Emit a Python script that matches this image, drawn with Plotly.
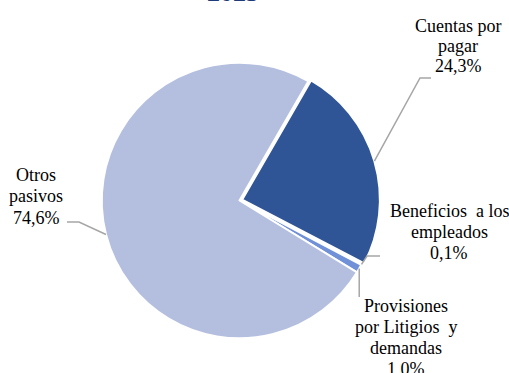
import math
import plotly.graph_objects as go

# ---- data ----
categories = ["Cuentas por pagar", "Beneficios a los empleados",
              "Provisiones por Litigios y demandas", "Otros pasivos"]
values = [24.3, 0.1, 1.0, 74.6]
label_lines = [["Cuentas por", "pagar"],
               ["Beneficios  a los", "empleados"],
               ["Provisiones", "por Litigios  y", "demandas"],
               ["Otros", "pasivos"]]
title_text = "2025"

# ---- styles / layout ----
colors = ["#2F5597", "#6A8AD6", "#7090D8", "#B4BFE0"]
pulls = [0.02, 0, 0, 0]
rotation = 30
W, H = 509, 373
ML, MR, MT, MB = 99, 129, 60, 32
PW, PH = W - ML - MR, H - MT - MB
FONT = "Liberation Serif"
FS = 18

def xp(px):
    return (px - ML) / PW

def yp(py):
    return 1 - (py - MT) / PH

cx, cy = ML + PW / 2, MT + PH / 2
r = min(PW, PH) / (2 + 2 * max(pulls))

total = sum(values)
edge_pts = []
cum = 0
for v, p in zip(values, pulls):
    ang = math.radians(rotation + 360 * (cum + v / 2) / total)
    rr = r * (1 + p)
    edge_pts.append((cx + rr * math.sin(ang), cy - rr * math.cos(ang)))
    cum += v

fig = go.Figure(go.Pie(
    labels=categories, values=values, sort=False, direction="clockwise",
    rotation=rotation, pull=pulls, textinfo="none", hoverinfo="skip",
    marker=dict(colors=colors, line=dict(color="white", width=2)),
    showlegend=False,
))

# label positions (first baseline, center x) and line spacing
label_pos = [(458, 32, 20), (449, 216.5, 21), (406, 311.5, 21.3), (36, 180.5, 21.5)]
# leader line start / elbow points
leader = [[(431, 78), (420, 78)], [(380, 256), (367, 256)],
          [(None, 297)], [(67, 222), (79, 222)]]

annotations = []
for i, (lines, v) in enumerate(zip(label_lines, values)):
    all_lines = lines + [f"{v:.1f}%".replace(".", ",")]
    x0, b0, sp = label_pos[i]
    for j, t in enumerate(all_lines):
        annotations.append(dict(
            text=t, x=xp(x0), y=yp(b0 + j * sp - 6), xref="paper", yref="paper",
            xanchor="center", yanchor="middle", showarrow=False,
            font=dict(family=FONT, size=FS, color="#000000")))

shapes = []
for i, pts in enumerate(leader):
    ex, ey = edge_pts[i]
    pts = [(ex if px is None else px, py) for px, py in pts] + [(ex, ey)]
    path = "M " + " L ".join(f"{xp(px):.5f},{yp(py):.5f}" for px, py in pts)
    shapes.append(dict(type="path", path=path, xref="paper", yref="paper",
                       line=dict(color="#A6A6A6", width=1.5)))

annotations.append(dict(
    text=f"<b>{title_text}</b>", x=xp(232.5), y=yp(9), xref="paper", yref="paper",
    xanchor="center", yanchor="bottom", showarrow=False,
    font=dict(family=FONT, size=26, color="#1F3C78")))

fig.update_layout(
    width=W, height=H, margin=dict(l=ML, r=MR, t=MT, b=MB),
    paper_bgcolor="white", plot_bgcolor="white",
    annotations=annotations, shapes=shapes,
)
fig.write_html("out.html", config={"displayModeBar": False},
               post_script="document.body.style.margin='0';")
